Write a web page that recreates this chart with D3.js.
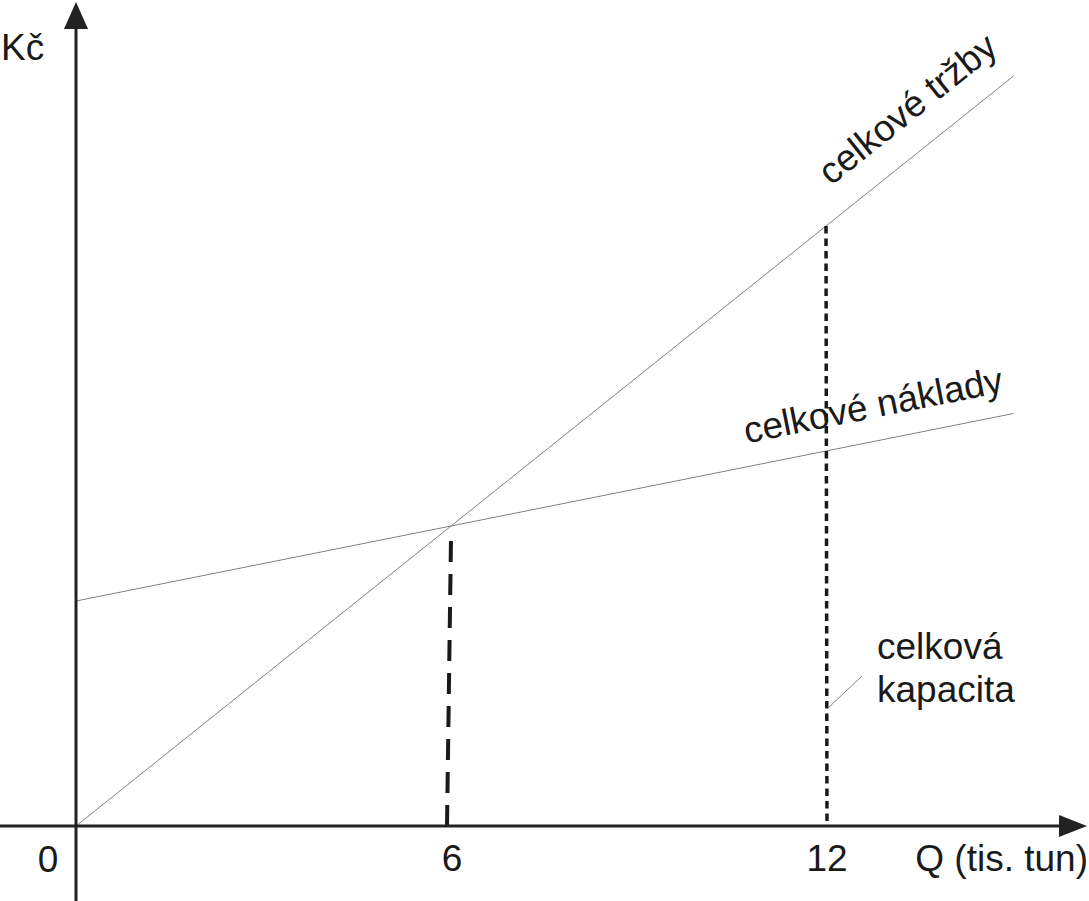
<!DOCTYPE html>
<html><head><meta charset="utf-8">
<script src="https://cdn.jsdelivr.net/npm/d3@7"></script>
<style>
html,body{margin:0;padding:0;background:#fff;}
svg{display:block;}
text{font-family:"Liberation Sans",Arial,sans-serif;fill:#1a1a1a;}
</style></head>
<body>
<svg id="c" width="1089" height="901"></svg>
<script>
// ---- data ----
const quantity = [0, 15];            // Q (tis. tun)
const revenue = [0, 1500];           // celkové tržby (Kč)
const costs = [450, 825];            // celkové náklady (Kč)
const xTickValues = [6, 12];
const originLabel = "0";
const breakEvenQ = 6;
const capacityQ = 12;
const labels = {
  y: "Kč",
  x: "Q (tis. tun)",
  revenue: "celkové tržby",
  costs: "celkové náklady",
  capacity: ["celková", "kapacita"]
};

const svg = d3.select("#c");
const x = d3.scaleLinear().domain([0, 15]).range([76, 1013.5]);
const y = d3.scaleLinear().domain([0, 1500]).range([826, 76]);

const revPts = quantity.map((q, i) => [q, revenue[i]]);
const costPts = quantity.map((q, i) => [q, costs[i]]);
const line = d3.line().x(d => x(d[0])).y(d => y(d[1]));
const interp = (arr, q) => arr[0] + (arr[1] - arr[0]) * (q - quantity[0]) / (quantity[1] - quantity[0]);

// thin lines
svg.append("path").attr("d", line(revPts)).attr("fill", "none").attr("stroke", "#808080").attr("stroke-width", 1);
svg.append("path").attr("d", line(costPts)).attr("fill", "none").attr("stroke", "#808080").attr("stroke-width", 1);

// break-even dashed line (drawn from axis upward)
const beY = y(interp(costs, breakEvenQ));
svg.append("line")
  .attr("x1", x(breakEvenQ) - 4).attr("y1", y(0))
  .attr("x2", x(breakEvenQ)).attr("y2", beY + 12)
  .attr("stroke", "#1a1a1a").attr("stroke-width", 4)
  .attr("stroke-dasharray", "21,12");

// capacity dotted line
svg.append("line")
  .attr("x1", x(capacityQ)).attr("y1", y(interp(revenue, capacityQ)))
  .attr("x2", x(capacityQ) + 1).attr("y2", y(0))
  .attr("stroke", "#1a1a1a").attr("stroke-width", 3.5)
  .attr("stroke-dasharray", "7.5,5");

// axes
const ax = "#222";
svg.append("line").attr("x1", 0).attr("y1", y(0)).attr("x2", 1062).attr("y2", y(0))
  .attr("stroke", ax).attr("stroke-width", 3);
svg.append("path").attr("d", `M1087,${y(0)} L1059,${y(0) - 11} L1059,${y(0) + 11} Z`).attr("fill", ax);
svg.append("line").attr("x1", x(0)).attr("y1", 901).attr("x2", x(0)).attr("y2", 26)
  .attr("stroke", ax).attr("stroke-width", 3);
svg.append("path").attr("d", `M${x(0)},2 L${x(0) - 12},29 L${x(0) + 12},29 Z`).attr("fill", ax);

// tick labels
const fs = 37;
svg.append("text").attr("x", 48).attr("y", 872).attr("text-anchor", "middle").attr("font-size", fs).text(originLabel);
svg.selectAll("text.tick").data(xTickValues).enter().append("text").attr("class", "tick")
  .attr("x", d => x(d) + 1).attr("y", 871).attr("text-anchor", "middle").attr("font-size", fs).text(d => d);
svg.append("text").attr("x", 1088).attr("y", 871).attr("text-anchor", "end").attr("font-size", fs).text(labels.x);
svg.append("text").attr("x", 1).attr("y", 60).attr("font-size", fs).text(labels.y);

// rotated labels along lines
function lineLabel(arr, q, off, txt) {
  const x0 = x(quantity[0]), y0 = y(arr[0]), x1 = x(quantity[1]), y1 = y(arr[1]);
  const ang = Math.atan2(y1 - y0, x1 - x0);
  const px = x(q), py = y(interp(arr, q));
  const nx = Math.sin(ang) * off, ny = -Math.cos(ang) * off;
  svg.append("text").attr("font-size", fs)
    .attr("transform", `translate(${px + nx},${py + ny}) rotate(${ang * 180 / Math.PI})`)
    .text(txt);
}
lineLabel(revenue, 12.36, 28, labels.revenue);
lineLabel(costs, 10.8, 23, labels.costs);

// capacity label + leader
svg.append("line").attr("x1", x(capacityQ) + 2).attr("y1", 708).attr("x2", 862).attr("y2", 676)
  .attr("stroke", "#808080").attr("stroke-width", 1);
svg.append("text").attr("x", 877).attr("y", 659).attr("font-size", fs).text(labels.capacity[0]);
svg.append("text").attr("x", 877).attr("y", 702).attr("font-size", fs).text(labels.capacity[1]);
</script>
</body></html>
